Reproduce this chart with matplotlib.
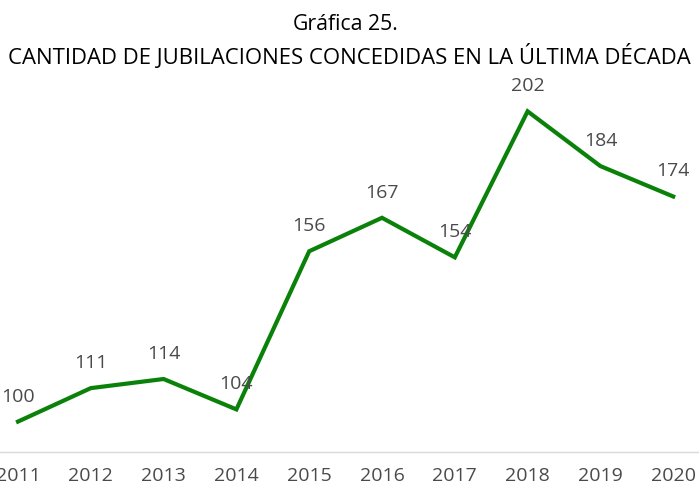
import matplotlib
matplotlib.use("Agg")
import matplotlib.pyplot as plt

years = ["2011", "2012", "2013", "2014", "2015", "2016", "2017", "2018", "2019", "2020"]
values = [100, 111, 114, 104, 156, 167, 154, 202, 184, 174]

title1a = "Gráfica"
title1b = "25."
title2 = "CANTIDAD DE JUBILACIONES CONCEDIDAS EN LA ÚLTIMA DÉCADA"

plt.rcParams['font.family'] = ['Open Sans', 'DejaVu Sans']

fig = plt.figure(figsize=(6.99, 4.92), dpi=100)
ax = fig.add_axes([0, 1 - 452 / 492, 1, (452 - 87) / 492])

x = list(range(len(years)))
ax.plot(x, values, color="#0a820a", linewidth=3, solid_joinstyle="miter")
for xi, v in zip(x, values):
    ax.annotate(str(v), (xi, v), xytext=(0, 18), textcoords="offset points",
                ha="center", va="center", fontsize=14, color="#4a4a4a")

ax.set_xlim(-18 / 72.8, (699 - 18) / 72.8)
ax.set_ylim(90, 210)
ax.set_xticks(x)
ax.set_xticklabels(years, fontsize=14, color="#4a4a4a")
ax.tick_params(axis="x", length=0, pad=11)
ax.set_yticks([])
for s in ["top", "left", "right"]:
    ax.spines[s].set_visible(False)
ax.spines["bottom"].set_color("#d9d9d9")
ax.spines["bottom"].set_linewidth(1)

t1a = fig.text(363 / 699, 1 - 30 / 492, title1a, ha="right", va="baseline", fontsize=12, color="black")
t1b = fig.text(368 / 699, 1 - 30 / 492, title1b, ha="left", va="baseline", fontsize=14, color="black")
t2 = fig.text(349 / 699, 1 - 57 / 492, title2, ha="center", va="center", fontsize=13, color="black")

fig.canvas.draw()
r = fig.canvas.get_renderer()
w2 = t2.get_window_extent(r).width
t2.set_fontsize(13 * 682 / w2)
w1a = t1a.get_window_extent(r).width
t1a.set_fontsize(12 * 70 / w1a)
w1b = t1b.get_window_extent(r).width
t1b.set_fontsize(14 * 30 / w1b)

fig.savefig("out.png", dpi=100)
